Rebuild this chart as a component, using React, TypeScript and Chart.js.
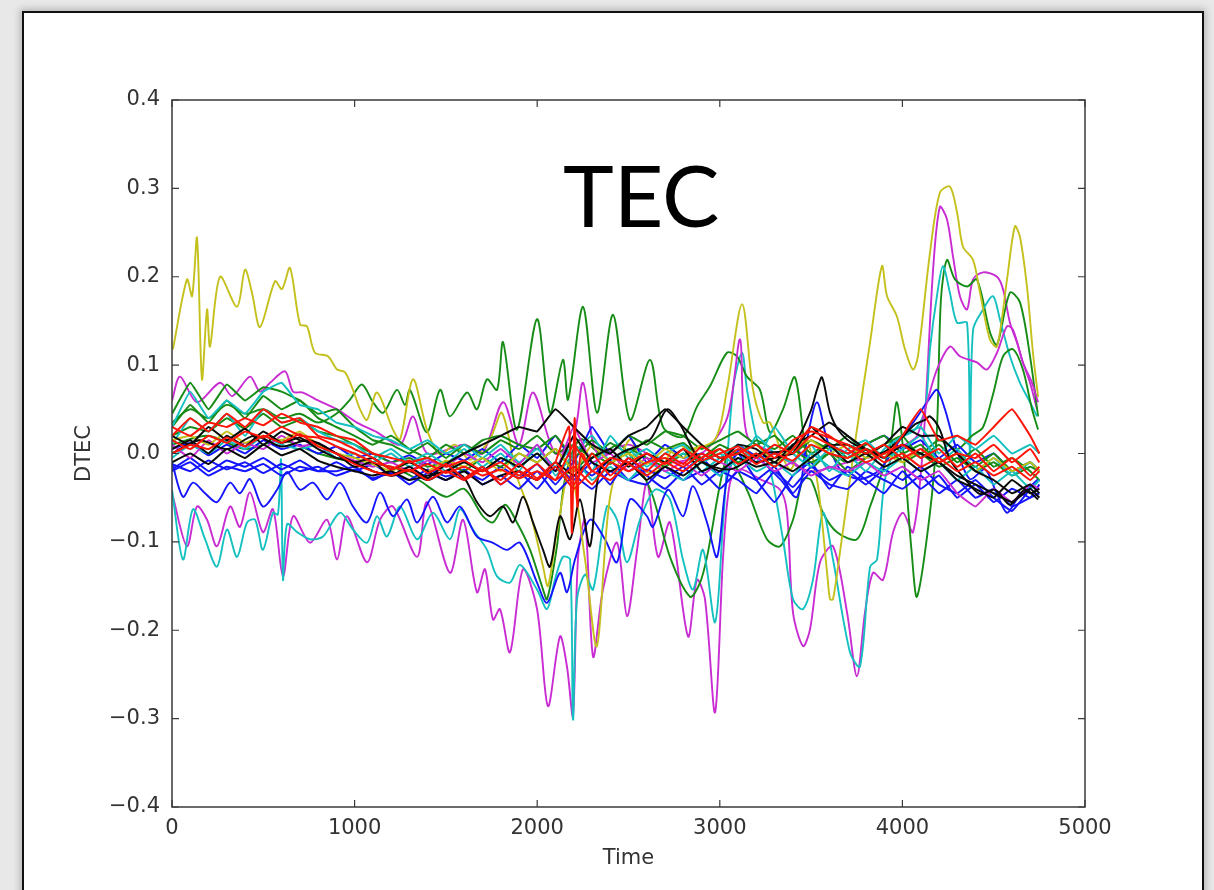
import React, { useEffect, useRef } from 'react';
import { Chart, registerables } from 'chart.js';

Chart.register(...registerables);

// ---------- text ----------
const TITLE = 'TEC';
const X_TITLE = 'Time';
const Y_TITLE = 'DTEC';
const X_TICKS = [0, 1000, 2000, 3000, 4000, 5000];
const X_TICK_LABELS = ['0', '1000', '2000', '3000', '4000', '5000'];
const Y_TICKS = [-0.4, -0.3, -0.2, -0.1, 0.0, 0.1, 0.2, 0.3, 0.4];
const Y_TICK_LABELS = ['\u22120.4', '\u22120.3', '\u22120.2', '\u22120.1', '0.0', '0.1', '0.2', '0.3', '0.4'];

// ---------- shared time grid for the dense band ----------
const T100 = [
  0, 100, 200, 300, 400, 500, 600, 700, 800, 900,
  1000, 1100, 1200, 1300, 1400, 1500, 1600, 1700, 1800, 1900,
  2000, 2100, 2200, 2300, 2400, 2500, 2600, 2700, 2800, 2900,
  3000, 3100, 3200, 3300, 3400, 3500, 3600, 3700, 3800, 3900,
  4000, 4100, 4200, 4300, 4400, 4500, 4600, 4700, 4750,
];

// ---------- band series (values on T100) ----------
const BLUE_B1 = [
  -0.012, -0.02, -0.008, -0.018, -0.01, -0.022, -0.012, -0.02, -0.015, -0.025,
  -0.018, -0.028, -0.022, -0.03, -0.018, -0.026, -0.02, -0.03, -0.015, -0.028,
  -0.012, -0.035, -0.01, -0.025, -0.008, -0.03, -0.018, -0.028, -0.015, -0.035,
  -0.02, -0.03, -0.045, -0.02, -0.038, -0.015, -0.03, -0.02, -0.035, -0.018,
  -0.03, -0.015, -0.035, -0.045, -0.03, -0.05, -0.065, -0.04, -0.03,
];
const BLUE_B2 = [
  0.005, 0.012, -0.002, 0.01, 0.0, 0.015, 0.005, 0.01, 0.0, 0.008,
  -0.005, 0.0, -0.01, -0.002, -0.012, 0.0, -0.008, 0.005, -0.01, 0.01,
  -0.005, 0.02, -0.01, 0.03, 0.0, 0.02, -0.01, 0.01, -0.005, 0.0,
  -0.01, 0.01, -0.005, 0.0, 0.005, -0.005, 0.01, 0.0, 0.01, 0.02,
  0.005, 0.015, -0.005, 0.01, -0.01, 0.0, -0.02, -0.01, -0.02,
];
const BLUE_B3 = [
  -0.018, -0.005, -0.02, -0.008, -0.015, -0.005, -0.018, -0.008, -0.02, -0.01,
  -0.02, -0.012, -0.025, -0.015, -0.028, -0.01, -0.03, -0.015, -0.035, -0.02,
  -0.04, -0.015, -0.03, -0.01, -0.035, -0.005, -0.025, -0.04, -0.02, -0.005,
  -0.025, 0.0, -0.03, -0.055, -0.025, -0.01, -0.04, -0.015, -0.03, -0.045,
  -0.02, -0.04, -0.025, -0.05, -0.035, -0.055, -0.04, -0.05, -0.035,
];
const BLUE_B4 = [
  -0.02, -0.01, -0.025, -0.015, -0.02, -0.012, -0.025, -0.015, -0.02, -0.02,
  -0.015, -0.03, -0.02, -0.035, -0.022, -0.03, -0.018, -0.035, -0.025, -0.04,
  -0.02, -0.045, -0.025, -0.04, -0.02, -0.03, -0.035, -0.015, -0.03, -0.02,
  -0.04, -0.02, -0.03, -0.015, -0.045, -0.02, -0.035, -0.04, -0.02, -0.03,
  -0.04, -0.025, -0.045, -0.03, -0.05, -0.04, -0.06, -0.05, -0.045,
];
const GREEN_B1 = [
  0.045, 0.08, 0.05, 0.078, 0.06, 0.075, 0.07, 0.06, 0.045, 0.05,
  0.03, 0.015, 0.01, 0.0, 0.012, -0.005, 0.01, 0.0, 0.015, 0.005,
  0.02, 0.0, 0.01, -0.005, 0.012, 0.0, 0.015, 0.005, 0.012, -0.005,
  0.01, 0.0, 0.015, 0.005, 0.02, 0.0, 0.012, -0.005, 0.01, 0.02,
  0.0, 0.01, -0.01, 0.0, -0.015, 0.0, -0.02, -0.01, -0.02,
];
const GREEN_B2 = [
  0.02, 0.03, 0.025, 0.04, 0.028, 0.045, 0.03, 0.038, 0.025, 0.02,
  0.01, 0.0, -0.01, -0.005, -0.015, -0.01, -0.02, -0.005, -0.015, 0.0,
  -0.01, 0.005, -0.02, 0.0, -0.012, 0.005, -0.005, -0.015, 0.0, -0.01,
  0.005, -0.01, 0.0, -0.015, 0.005, -0.01, 0.0, -0.02, -0.005, 0.01,
  -0.01, 0.0, -0.015, -0.005, -0.02, -0.01, -0.025, -0.015, -0.02,
];
const GREEN_B3 = [
  0.03, 0.055, 0.035, 0.06, 0.04, 0.065, 0.05, 0.06, 0.04, 0.03,
  0.02, 0.01, 0.02, 0.005, -0.005, 0.01, 0.0, 0.015, 0.02, 0.01,
  0.005, 0.02, -0.005, 0.015, 0.0, 0.02, 0.01, 0.025, 0.02, 0.005,
  0.015, 0.025, 0.01, 0.02, 0.0, 0.015, 0.005, 0.02, 0.0, 0.01,
  0.02, -0.005, 0.01, -0.01, 0.005, -0.015, -0.005, -0.02, -0.03,
];
const RED_B1 = [
  0.03, 0.02, 0.035, 0.03, 0.04, 0.032, 0.045, 0.035, 0.03, 0.02,
  0.015, 0.0, -0.005, -0.01, -0.005, -0.015, -0.008, -0.02, -0.01, -0.025,
  -0.012, -0.03, 0.01, -0.02, -0.005, -0.01, 0.0, -0.012, 0.005, -0.008,
  0.0, 0.008, -0.005, 0.01, 0.0, 0.02, 0.01, 0.0, 0.012, -0.005,
  0.02, 0.05, 0.015, 0.02, 0.01, 0.03, 0.05, 0.02, 0.0,
];
const RED_B2 = [
  0.015, 0.005, 0.02, 0.012, 0.025, 0.018, 0.03, 0.02, 0.018, 0.008,
  0.0, -0.01, -0.015, -0.02, -0.012, -0.022, -0.015, -0.025, -0.018, -0.028,
  -0.02, -0.03, -0.015, -0.035, -0.01, -0.02, -0.01, -0.005, -0.015, 0.0,
  -0.01, 0.005, -0.012, 0.0, -0.008, 0.01, 0.0, -0.005, 0.005, -0.01,
  0.0, -0.015, -0.005, -0.02, -0.01, -0.025, -0.015, -0.03, -0.02,
];
const RED_B3 = [
  0.0, 0.01, 0.005, 0.018, 0.008, 0.02, 0.012, 0.022, 0.008, 0.0,
  -0.012, -0.02, -0.025, -0.018, -0.03, -0.02, -0.03, -0.018, -0.03, -0.012,
  -0.028, -0.01, -0.035, 0.0, -0.025, -0.005, -0.02, 0.0, -0.012, 0.008,
  -0.005, 0.0, 0.01, -0.005, 0.015, 0.025, 0.018, 0.01, 0.0, 0.01,
  -0.005, 0.005, -0.01, 0.0, -0.005, 0.01, -0.01, 0.005, -0.01,
];
const RED_B4 = [
  0.02, 0.04, 0.025, 0.045, 0.03, 0.05, 0.035, 0.04, 0.02, 0.015,
  0.005, -0.005, -0.018, -0.008, -0.022, -0.012, -0.028, -0.015, -0.035, -0.02,
  -0.03, -0.015, -0.04, -0.02, -0.03, -0.012, -0.025, -0.01, -0.02, -0.005,
  0.005, -0.012, 0.0, -0.015, 0.005, 0.03, 0.02, 0.005, -0.01, 0.0,
  0.01, -0.005, 0.005, -0.015, 0.0, -0.02, -0.005, -0.025, -0.015,
];
const CYAN_B1 = [
  0.03, 0.07, 0.04, 0.06, 0.045, 0.07, 0.08, 0.055, 0.05, 0.035,
  0.03, 0.02, 0.015, 0.005, 0.015, 0.0, 0.01, -0.005, 0.01, -0.01,
  0.005, -0.015, 0.01, -0.02, 0.02, -0.005, 0.005, -0.01, 0.0, -0.02,
  -0.005, 0.01, -0.01, 0.03, 0.0, -0.015, 0.005, 0.0, -0.02, 0.005,
  0.02, 0.03, 0.0, 0.02, 0.005, 0.02, 0.0, 0.01, 0.0,
];
const CYAN_B2 = [
  -0.005, 0.01, 0.0, 0.015, 0.005, 0.02, 0.01, 0.005, 0.01, -0.005,
  0.0, -0.01, 0.0, -0.015, -0.005, -0.02, -0.01, -0.02, -0.005, -0.015,
  0.0, -0.02, -0.005, -0.03, -0.015, -0.03, -0.01, -0.02, -0.03, -0.01,
  -0.025, -0.005, -0.02, -0.01, -0.025, 0.0, -0.015, -0.025, -0.01, -0.02,
  -0.005, -0.02, -0.01, -0.03, -0.015, -0.035, -0.02, -0.04, -0.03,
];
const CYAN_B3 = [
  0.01, 0.04, 0.025, 0.045, 0.02, 0.05, 0.035, 0.04, 0.025, 0.015,
  0.01, -0.005, 0.005, -0.01, 0.0, -0.012, 0.005, -0.015, 0.0, -0.02,
  0.01, -0.025, 0.0, 0.02, -0.01, 0.005, -0.015, 0.0, 0.01, -0.01,
  0.0, -0.015, 0.02, 0.0, -0.01, 0.01, -0.02, 0.005, 0.015, -0.005,
  0.005, 0.02, -0.01, 0.005, -0.02, -0.005, -0.025, -0.01, -0.02,
];
const MAGENTA_B1 = [
  0.01, -0.005, 0.015, 0.0, 0.012, 0.005, 0.02, 0.008, 0.012, 0.0,
  -0.008, -0.015, -0.01, -0.02, -0.008, -0.015, 0.0, -0.01, 0.005, -0.012,
  0.01, -0.02, 0.03, -0.01, 0.0, -0.02, -0.005, -0.02, -0.01, -0.025,
  -0.01, -0.02, -0.005, -0.02, -0.01, -0.025, -0.015, -0.02, -0.01, -0.025,
  -0.015, -0.03, -0.02, -0.045, -0.06, -0.04, -0.055, -0.035, -0.04,
];
const YELLOW_B1 = [
  0.015, 0.02, 0.01, 0.025, 0.012, 0.02, 0.015, 0.025, 0.01, 0.0,
  -0.005, -0.012, -0.02, -0.01, -0.02, -0.008, -0.015, -0.005, -0.02, 0.0,
  -0.01, 0.005, -0.02, 0.01, -0.01, 0.0, -0.012, 0.005, -0.005, 0.01,
  -0.005, 0.0, 0.01, -0.01, 0.005, 0.015, 0.0, 0.01, -0.005, 0.0,
  -0.01, 0.005, -0.01, 0.0, -0.02, -0.005, -0.02, -0.01, -0.02,
];
const BLACK_B1 = [
  0.005, 0.015, 0.0, 0.02, 0.008, 0.025, 0.012, 0.018, 0.005, -0.005,
  -0.01, -0.02, -0.025, -0.015, -0.028, -0.012, 0.0, 0.01, 0.02, 0.03,
  0.025, 0.05, 0.03, 0.01, 0.0, 0.02, 0.03, 0.05, 0.03, 0.01,
  -0.005, 0.0, -0.01, -0.005, 0.0, 0.03, 0.01, 0.01, 0.0, 0.01,
  0.03, 0.02, 0.02, 0.0, -0.02, -0.03, -0.045, -0.035, -0.045,
];
const BLACK_B2 = [
  -0.01, 0.0, -0.012, 0.005, -0.005, 0.01, -0.002, 0.005, -0.008, -0.015,
  -0.02, -0.025, -0.02, -0.03, -0.025, -0.02, -0.01, -0.02, -0.005, -0.015,
  0.0, -0.02, 0.02, -0.01, -0.02, -0.01, -0.03, -0.015, -0.025, -0.01,
  -0.02, -0.005, -0.015, -0.01, -0.02, -0.005, 0.01, -0.01, 0.0, -0.015,
  -0.005, -0.02, -0.01, -0.03, -0.04, -0.05, -0.03, -0.045, -0.04,
];
const BLACK_B3 = [
  0.02, 0.01, 0.03, 0.015, 0.028, 0.01, 0.025, 0.015, 0.012, 0.0,
  -0.01, -0.005, -0.018, -0.01, -0.02, -0.03, -0.02, -0.035, -0.025, -0.02,
  -0.03, -0.01, -0.025, -0.005, 0.005, -0.015, 0.0, -0.01, 0.005, -0.02,
  -0.01, 0.01, 0.005, -0.01, 0.01, 0.02, 0.035, 0.02, 0.005, -0.005,
  0.01, 0.0, -0.01, -0.025, -0.035, -0.045, -0.055, -0.04, -0.05,
];

// ---------- outlying series: [time, DTEC] read at turning points ----------
const YELLOW_A: [number, number][] = [
  [5, 0.118], [82, 0.197], [110, 0.178], [137, 0.244], [164, 0.084], [192, 0.163], [208, 0.121],
  [263, 0.2], [356, 0.166], [400, 0.208], [438, 0.182], [482, 0.143], [564, 0.195], [602, 0.186],
  [646, 0.21], [701, 0.146], [739, 0.144], [783, 0.114], [854, 0.11], [904, 0.095], [947, 0.092],
  [991, 0.072], [1030, 0.05], [1068, 0.038], [1123, 0.069], [1210, 0.027], [1249, 0.016],
  [1320, 0.084], [1396, 0.027], [1468, -0.001], [1550, 0.01], [1632, -0.007], [1741, 0.016],
  [1807, 0.046], [1889, -0.026], [1961, -0.067], [2032, -0.128], [2059, -0.15], [2108, -0.089],
  [2180, -0.018], [2262, -0.12], [2327, -0.218], [2399, -0.049], [2508, 0.016], [2590, -0.02],
  [2673, -0.018], [2760, 0.01], [2837, 0.005], [2974, 0.016], [3039, 0.072], [3122, 0.169],
  [3182, 0.072], [3237, 0.035], [3275, 0.035], [3384, -0.018], [3467, 0.016], [3532, -0.029],
  [3590, -0.14], [3604, -0.165], [3620, -0.165], [3658, -0.112], [3713, -0.029], [3751, 0.027],
  [3823, 0.126], [3888, 0.212], [3916, 0.178], [3970, 0.155], [4014, 0.118], [4058, 0.095],
  [4085, 0.11], [4151, 0.227], [4205, 0.295], [4260, 0.302], [4299, 0.273], [4332, 0.234],
  [4387, 0.219], [4425, 0.182], [4479, 0.129], [4518, 0.121], [4573, 0.197], [4616, 0.257],
  [4644, 0.245], [4682, 0.189], [4715, 0.114], [4743, 0.064],
];
const GREEN_A: [number, number][] = [
  [0, 0.035], [100, 0.05], [200, 0.04], [300, 0.055], [400, 0.045], [500, 0.05], [600, 0.04],
  [700, 0.045], [800, 0.035], [900, 0.045], [975, 0.061], [1040, 0.078], [1101, 0.058],
  [1156, 0.046], [1232, 0.072], [1276, 0.055], [1303, 0.072], [1396, 0.024], [1468, 0.072],
  [1522, 0.042], [1616, 0.069], [1670, 0.05], [1725, 0.084], [1780, 0.072], [1813, 0.126],
  [1889, 0.027], [1999, 0.152], [2070, 0.046], [2141, 0.106], [2169, 0.061], [2251, 0.166],
  [2328, 0.046], [2415, 0.157], [2508, 0.038], [2618, 0.106], [2689, 0.03], [2798, 0.019],
  [2875, 0.053], [2946, 0.076], [3039, 0.114], [3094, 0.11], [3149, 0.087], [3220, 0.072],
  [3275, 0.024], [3346, 0.05], [3412, 0.086], [3494, -0.015], [3604, 0.0], [3700, -0.01],
  [3800, 0.005], [3900, -0.005], [4000, 0.01], [4100, 0.0], [4200, 0.015], [4300, 0.005],
  [4380, 0.02], [4442, 0.03], [4500, 0.07], [4551, 0.11], [4606, 0.118], [4660, 0.095],
  [4710, 0.05], [4743, 0.027],
];
const GREEN_B: [number, number][] = [
  [0, 0.01], [200, 0.02], [400, 0.005], [600, 0.015], [800, 0.0], [1000, -0.01], [1200, -0.015],
  [1350, -0.03], [1500, -0.049], [1600, -0.04], [1703, -0.071], [1758, -0.078], [1824, -0.058],
  [1889, -0.078], [1961, -0.109], [2032, -0.154], [2054, -0.165], [2108, -0.105], [2152, -0.029],
  [2234, 0.016], [2350, 0.0], [2450, 0.01], [2563, -0.018], [2634, -0.049], [2727, -0.117],
  [2837, -0.162], [2892, -0.146], [2930, -0.117], [3039, -0.003], [3100, -0.02], [3165, -0.049],
  [3258, -0.097], [3330, -0.105], [3401, -0.075], [3456, -0.029], [3500, -0.03], [3565, -0.067],
  [3642, -0.089], [3751, -0.097], [3823, -0.06], [3932, 0.008], [3970, 0.058], [4014, -0.018],
  [4050, -0.11], [4080, -0.162], [4151, -0.067], [4189, 0.027], [4211, 0.174], [4244, 0.219],
  [4288, 0.197], [4354, 0.189], [4408, 0.197], [4480, 0.137], [4518, 0.123], [4589, 0.182],
  [4644, 0.171], [4699, 0.11], [4743, 0.042],
];
const MAGENTA_A: [number, number][] = [
  [5, -0.049], [82, -0.105], [137, -0.06], [192, -0.075], [246, -0.105], [318, -0.06],
  [372, -0.083], [427, -0.044], [498, -0.089], [553, -0.063], [608, -0.139], [663, -0.071],
  [756, -0.101], [849, -0.075], [904, -0.12], [958, -0.071], [1068, -0.123], [1139, -0.075],
  [1210, -0.06], [1342, -0.117], [1396, -0.055], [1522, -0.135], [1594, -0.075], [1670, -0.157],
  [1714, -0.131], [1758, -0.188], [1796, -0.176], [1851, -0.225], [1922, -0.131], [1999, -0.176],
  [2059, -0.286], [2125, -0.207], [2163, -0.241], [2196, -0.297], [2223, -0.12], [2262, -0.075],
  [2306, -0.23], [2360, -0.154], [2437, -0.101], [2492, -0.184], [2547, -0.109], [2601, -0.033],
  [2662, -0.117], [2727, -0.078], [2826, -0.207], [2875, -0.143], [2919, -0.165], [2974, -0.293],
  [3018, -0.117], [3056, -0.033], [3111, -0.018], [3220, -0.029], [3330, -0.041], [3368, -0.067],
  [3401, -0.18], [3456, -0.218], [3494, -0.199], [3549, -0.123], [3620, -0.105], [3697, -0.18],
  [3751, -0.252], [3795, -0.18], [3839, -0.135], [3894, -0.143], [3949, -0.089], [4003, -0.067],
  [4058, -0.089], [4113, 0.008], [4168, 0.208], [4205, 0.279], [4244, 0.265], [4277, 0.223],
  [4315, 0.178], [4354, 0.163], [4387, 0.197], [4442, 0.205], [4518, 0.2], [4551, 0.186],
  [4589, 0.148], [4627, 0.126], [4660, 0.103], [4699, 0.08], [4737, 0.05],
];
const MAGENTA_B: [number, number][] = [
  [0, 0.06], [44, 0.087], [137, 0.058], [263, 0.08], [330, 0.065], [427, 0.087], [482, 0.07],
  [537, 0.08], [619, 0.093], [663, 0.07], [717, 0.069], [800, 0.06], [904, 0.05], [1013, 0.035],
  [1123, 0.024], [1250, 0.01], [1320, 0.042], [1400, 0.0], [1600, 0.01], [1700, 0.0],
  [1813, 0.058], [1900, 0.01], [1977, 0.069], [2100, 0.0], [2200, 0.02], [2251, 0.08],
  [2330, 0.0], [2500, 0.01], [2700, -0.01], [2900, 0.0], [3040, 0.04], [3111, 0.129],
  [3150, 0.02], [3300, 0.0], [3500, -0.02], [3700, -0.01], [3900, 0.0], [4014, 0.01],
  [4080, 0.02], [4135, 0.058], [4189, 0.095], [4260, 0.121], [4315, 0.11], [4408, 0.103],
  [4463, 0.095], [4518, 0.114], [4573, 0.144], [4606, 0.14], [4660, 0.103], [4710, 0.08],
  [4743, 0.058],
];
const CYAN_A: [number, number][] = [
  [0, -0.041], [60, -0.12], [115, -0.063], [181, -0.097], [246, -0.128], [301, -0.086],
  [356, -0.117], [411, -0.078], [455, -0.075], [498, -0.109], [553, -0.067], [580, -0.069],
  [597, -0.007], [608, -0.143], [630, -0.08], [685, -0.089], [756, -0.097], [827, -0.094],
  [920, -0.067], [991, -0.086], [1068, -0.101], [1123, -0.071], [1177, -0.094], [1249, -0.06],
  [1342, -0.097], [1429, -0.067], [1522, -0.097], [1577, -0.063], [1648, -0.086], [1725, -0.109],
  [1780, -0.139], [1851, -0.146], [1906, -0.126], [1999, -0.154], [2054, -0.176], [2097, -0.143],
  [2141, -0.117], [2180, -0.12], [2196, -0.301], [2218, -0.165], [2262, -0.137], [2306, -0.154],
  [2382, -0.06], [2437, -0.075], [2492, -0.123], [2563, -0.075], [2645, -0.041], [2727, -0.052],
  [2798, -0.12], [2853, -0.154], [2908, -0.109], [2974, -0.191], [3018, -0.078], [3072, 0.072],
  [3122, 0.114], [3149, 0.072], [3204, 0.016], [3275, -0.018], [3346, -0.097], [3401, -0.165],
  [3456, -0.176], [3510, -0.143], [3565, -0.067], [3620, -0.12], [3713, -0.225], [3768, -0.241],
  [3823, -0.128], [3861, -0.12], [3905, -0.029], [3987, 0.016], [4069, 0.027], [4124, 0.05],
  [4151, 0.118], [4189, 0.178], [4222, 0.212], [4260, 0.182], [4299, 0.148], [4354, 0.148],
  [4370, -0.007], [4387, 0.14], [4442, 0.163], [4496, 0.178], [4534, 0.152], [4589, 0.11],
  [4644, 0.08], [4699, 0.058], [4737, 0.042],
];
const BLUE_A: [number, number][] = [
  [0, -0.01], [60, -0.049], [115, -0.033], [181, -0.045], [246, -0.055], [318, -0.033],
  [372, -0.045], [427, -0.029], [498, -0.06], [575, -0.041], [630, -0.021], [701, -0.041],
  [772, -0.033], [849, -0.052], [920, -0.033], [991, -0.06], [1068, -0.078], [1139, -0.044],
  [1210, -0.071], [1287, -0.052], [1342, -0.078], [1429, -0.049], [1506, -0.078], [1577, -0.06],
  [1670, -0.094], [1758, -0.101], [1835, -0.109], [1906, -0.101], [1999, -0.146], [2054, -0.169],
  [2125, -0.135], [2163, -0.157], [2207, -0.12], [2289, -0.075], [2371, -0.097], [2437, -0.123],
  [2508, -0.052], [2601, -0.071], [2634, -0.083], [2716, -0.041], [2798, -0.071], [2853, -0.037],
  [2930, -0.078], [2985, -0.117], [3039, -0.029], [3111, 0.005], [3220, -0.007], [3330, -0.029],
  [3423, -0.049], [3478, 0.016], [3532, 0.058], [3587, 0.016], [3658, -0.018], [3768, -0.029],
  [3877, -0.018], [3987, 0.016], [4069, 0.038], [4151, 0.063], [4189, 0.072], [4233, 0.05],
  [4288, 0.01], [4370, -0.029], [4452, -0.018], [4518, -0.046], [4573, -0.067], [4627, -0.052],
  [4682, -0.041], [4743, -0.029],
];
const BLACK_A: [number, number][] = [
  [0, 0.0], [150, 0.015], [300, 0.005], [450, 0.02], [600, 0.008], [750, 0.015], [900, 0.0],
  [1000, -0.015], [1100, -0.01], [1200, -0.025], [1300, -0.02], [1400, -0.03], [1500, -0.02],
  [1594, -0.026], [1670, -0.055], [1741, -0.071], [1813, -0.06], [1868, -0.078], [1922, -0.049],
  [1977, -0.078], [2032, -0.109], [2070, -0.128], [2125, -0.071], [2180, -0.097], [2234, -0.052],
  [2289, -0.105], [2344, -0.018], [2453, 0.0], [2618, 0.016], [2711, 0.05], [2782, 0.033],
  [2892, -0.007], [3056, -0.018], [3220, 0.0], [3384, 0.005], [3494, 0.046], [3532, 0.072],
  [3560, 0.086], [3604, 0.046], [3658, 0.024], [3740, 0.01], [3877, 0.0], [3987, 0.016],
  [4069, 0.033], [4124, 0.038], [4151, 0.042], [4205, 0.027], [4260, -0.007], [4343, -0.029],
  [4425, -0.046], [4507, -0.041], [4589, -0.058], [4671, -0.041], [4743, -0.052],
];
const RED_SPIKE: [number, number][] = [
  [2100, -0.01], [2150, 0.02], [2175, 0.03], [2190, -0.09], [2205, 0.04], [2220, -0.06],
  [2240, 0.0], [2300, -0.02],
];

// ---------- styles ----------
const COL = {
  b: '#1414ff',
  g: '#168c16',
  r: '#ff1408',
  c: '#14c0c0',
  m: '#c82cd2',
  y: '#c4c01c',
  k: '#0a0a0a',
};

function bandSet(values: number[], color: string) {
  return {
    data: T100.map((t, i) => ({ x: t, y: values[i] })),
    borderColor: color,
    borderWidth: 2,
    pointRadius: 0,
    tension: 0.1,
    fill: false,
  };
}
function pathSet(pairs: [number, number][], color: string) {
  return {
    data: pairs.map(([t, v]) => ({ x: t, y: v })),
    borderColor: color,
    borderWidth: 1.9,
    pointRadius: 0,
    tension: 0.3,
    fill: false,
  };
}

const framePlugin = {
  id: 'mplFrame',
  afterDatasetsDraw(chart: any) {
    const { ctx, chartArea: a, scales } = chart;
    ctx.save();
    ctx.strokeStyle = '#3a3a3a';
    ctx.lineWidth = 1.5;
    ctx.strokeRect(a.left, a.top, a.right - a.left, a.bottom - a.top);
    ctx.lineWidth = 1.2;
    const tl = 7;
    ctx.beginPath();
    for (const v of X_TICKS) {
      const x = scales.x.getPixelForValue(v);
      ctx.moveTo(x, a.bottom);
      ctx.lineTo(x, a.bottom - tl);
      ctx.moveTo(x, a.top);
      ctx.lineTo(x, a.top + tl);
    }
    for (const v of Y_TICKS) {
      const y = scales.y.getPixelForValue(v);
      ctx.moveTo(a.left, y);
      ctx.lineTo(a.left + tl, y);
      ctx.moveTo(a.right, y);
      ctx.lineTo(a.right - tl, y);
    }
    ctx.stroke();
    // big slide label
    ctx.fillStyle = '#000';
    ctx.font = '86px Lato, "Open Sans", sans-serif';
    ctx.textAlign = 'center';
    ctx.textBaseline = 'alphabetic';
    ctx.fillText(TITLE, a.left + (a.right - a.left) * 0.514, a.top + 127);
    ctx.restore();
  },
};

export default function App() {
  const canvasRef = useRef<HTMLCanvasElement | null>(null);

  useEffect(() => {
    if (!canvasRef.current) return;
    const font = { family: '"DejaVu Sans", sans-serif', size: 21 };
    const chart = new Chart(canvasRef.current, {
      type: 'line',
      data: {
        datasets: [
          bandSet(RED_B2, COL.r),
          bandSet(RED_B1, COL.r),
          bandSet(RED_B4, COL.r),
          bandSet(RED_B3, COL.r),
          pathSet(RED_SPIKE, COL.r),
          bandSet(BLACK_B1, COL.k),
          bandSet(BLACK_B3, COL.k),
          bandSet(BLACK_B2, COL.k),
          pathSet(BLACK_A, COL.k),
          bandSet(YELLOW_B1, COL.y),
          bandSet(MAGENTA_B1, COL.m),
          bandSet(CYAN_B1, COL.c),
          bandSet(CYAN_B3, COL.c),
          bandSet(CYAN_B2, COL.c),
          bandSet(GREEN_B1, COL.g),
          bandSet(GREEN_B3, COL.g),
          bandSet(GREEN_B2, COL.g),
          bandSet(BLUE_B1, COL.b),
          bandSet(BLUE_B2, COL.b),
          bandSet(BLUE_B4, COL.b),
          bandSet(BLUE_B3, COL.b),
          pathSet(YELLOW_A, COL.y),
          pathSet(MAGENTA_B, COL.m),
          pathSet(BLUE_A, COL.b),
          pathSet(GREEN_A, COL.g),
          pathSet(CYAN_A, COL.c),
          pathSet(GREEN_B, COL.g),
          pathSet(MAGENTA_A, COL.m),
        ] as any,
      },
      options: {
        animation: false,
        responsive: false,
        devicePixelRatio: 1,
        events: [],
        layout: { padding: { left: 66, top: 100, right: 129, bottom: 11 } },
        plugins: {
          legend: { display: false },
          tooltip: { enabled: false },
          title: { display: false },
        },
        scales: {
          x: {
            type: 'linear',
            min: 0,
            max: 5000,
            grid: { display: false, drawTicks: false },
            border: { display: false },
            afterBuildTicks: (s: any) => {
              s.ticks = X_TICKS.map((v) => ({ value: v }));
            },
            afterFit: (s: any) => {
              s.height = 72;
            },
            ticks: {
              autoSkip: false,
              maxRotation: 0,
              padding: 9,
              color: '#333',
              font,
              callback: (_v: any, i: number) => X_TICK_LABELS[i],
            },
            title: {
              display: true,
              text: X_TITLE,
              color: '#333',
              font,
              padding: { top: 0, bottom: 8 },
            },
          },
          y: {
            type: 'linear',
            min: -0.4,
            max: 0.4,
            grid: { display: false, drawTicks: false },
            border: { display: false },
            afterBuildTicks: (s: any) => {
              s.ticks = Y_TICKS.map((v) => ({ value: v }));
            },
            afterFit: (s: any) => {
              s.width = 106;
            },
            ticks: {
              autoSkip: false,
              padding: 12,
              color: '#333',
              font,
              callback: (_v: any, i: number) => Y_TICK_LABELS[i],
            },
            title: {
              display: true,
              text: Y_TITLE,
              color: '#333',
              font,
              padding: { top: 6, bottom: 0 },
            },
          },
        },
      } as any,
      plugins: [framePlugin],
    });
    return () => chart.destroy();
  }, []);

  return (
    <div
      style={{
        position: 'fixed',
        left: 0,
        top: 0,
        width: 1214,
        height: 890,
        overflow: 'hidden',
        background: '#e8e8e8',
      }}
    >
      <div
        style={{
          position: 'absolute',
          left: 22,
          top: 11,
          width: 1178,
          height: 900,
          background: '#fff',
          border: '2px solid #111',
          boxShadow: '0 0 7px 2px rgba(0,0,0,0.22)',
        }}
      />
      <canvas
        ref={canvasRef}
        width={1214}
        height={890}
        style={{ position: 'absolute', left: 0, top: 0, width: 1214, height: 890 }}
      />
    </div>
  );
}
